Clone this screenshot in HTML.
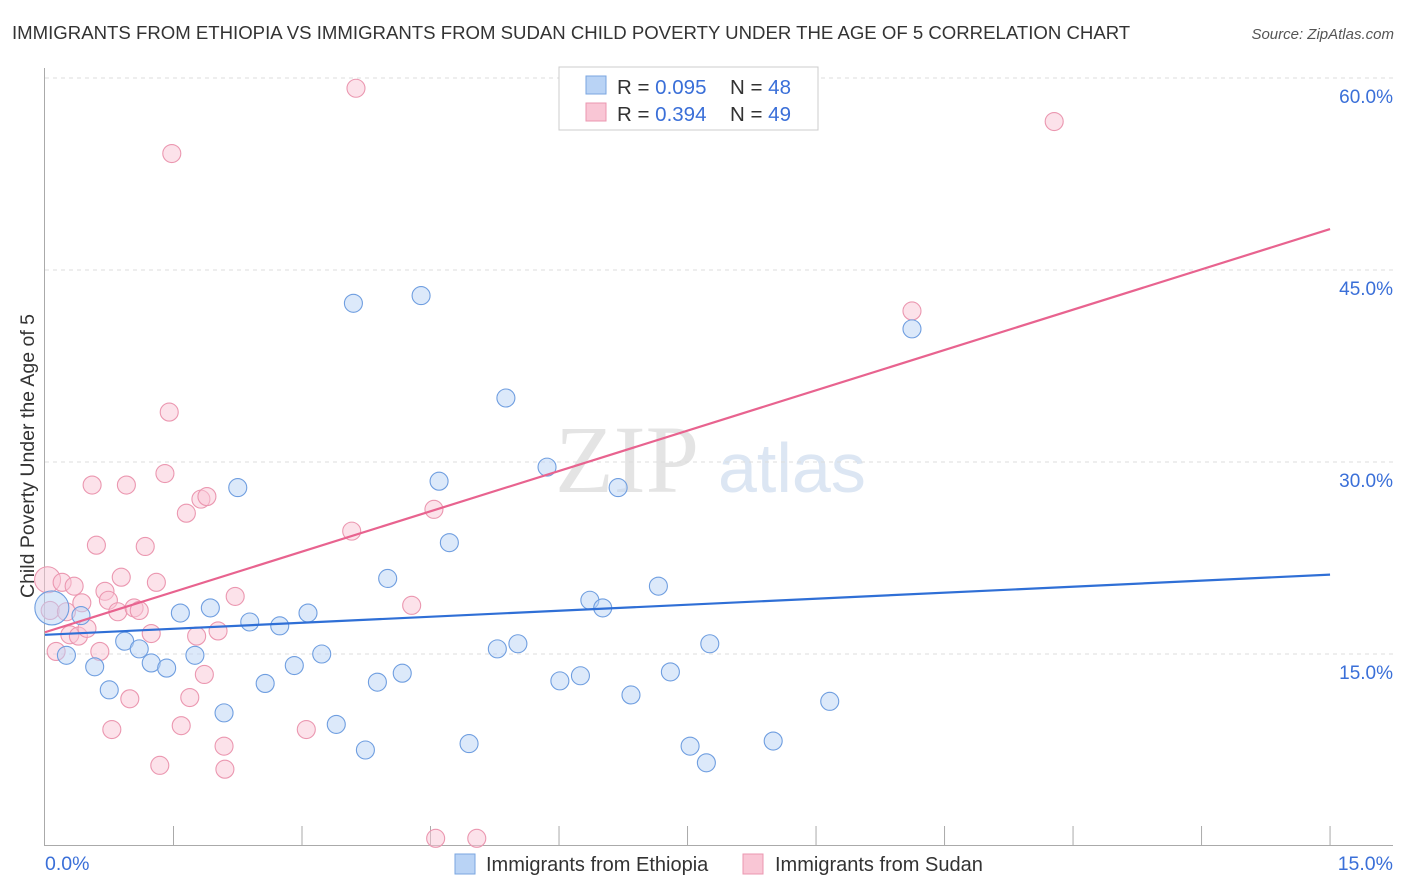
<!DOCTYPE html>
<html><head><meta charset="utf-8"><style>
body{margin:0;background:#fff;font-family:"Liberation Sans",sans-serif;}
svg{display:block}
</style></head><body>
<svg id="chart" width="1406" height="892">
<text x="12" y="39" font-size="18.6" fill="#333">IMMIGRANTS FROM ETHIOPIA VS IMMIGRANTS FROM SUDAN CHILD POVERTY UNDER THE AGE OF 5 CORRELATION CHART</text>
<text x="1394" y="39" font-size="15" fill="#555" font-style="italic" text-anchor="end">Source: ZipAtlas.com</text>
<text transform="translate(34,456) rotate(-90)" font-size="19.5" fill="#333" text-anchor="middle">Child Poverty Under the Age of 5</text>
<text x="555" y="492" font-size="96" fill="#e4e4e4" font-family="Liberation Serif,serif">ZIP</text>
<text x="718" y="492" font-size="70" fill="#dce6f3">atlas</text>
<g id="grid"></g><g id="axes"></g><g id="pts"></g><g id="lines"></g>
<g>
<rect x="559" y="67" width="259" height="63" fill="#fff" stroke="#ccc"/>
<rect x="586" y="76" width="20" height="18" fill="#b9d3f5" stroke="#7aa6e0"/>
<rect x="586" y="103" width="20" height="18" fill="#f9c6d5" stroke="#eb97b0"/>
<text x="617" y="94" font-size="20.5" fill="#333">R = <tspan fill="#3a6fd8">0.095</tspan></text>
<text x="730" y="94" font-size="20.5" fill="#333">N = <tspan fill="#3a6fd8">48</tspan></text>
<text x="617" y="121" font-size="20.5" fill="#333">R = <tspan fill="#3a6fd8">0.394</tspan></text>
<text x="730" y="121" font-size="20.5" fill="#333">N = <tspan fill="#3a6fd8">49</tspan></text>
</g>
<g>
<rect x="455" y="854" width="20" height="20" fill="#b9d3f5" stroke="#7aa6e0"/>
<text x="486" y="871" font-size="20" fill="#333">Immigrants from Ethiopia</text>
<rect x="743" y="854" width="20" height="20" fill="#f9c6d5" stroke="#eb97b0"/>
<text x="775" y="871" font-size="20" fill="#333">Immigrants from Sudan</text>
</g>
</svg>
<script>
const yTicks=[15,30,45,60];
const yTickLabels=["15.0%","30.0%","45.0%","60.0%"];
const xLabels=["0.0%","15.0%"];
const ethX=[0.08,0.25,0.42,0.58,0.75,0.93,1.10,1.24,1.42,1.58,1.75,1.93,2.09,2.25,2.39,2.57,2.74,2.91,3.07,3.23,3.40,3.60,3.74,3.88,4.00,4.17,4.39,4.60,4.72,4.95,5.28,5.38,5.52,5.86,6.01,6.25,6.36,6.51,6.69,6.84,7.16,7.30,7.53,7.72,7.76,8.50,9.16,10.12];
const ethY=[18.6,14.9,18.0,14.0,12.2,16.0,15.4,14.3,13.9,18.2,14.9,18.6,10.4,28.0,17.5,12.7,17.2,14.1,18.2,15.0,9.5,42.4,7.5,12.8,20.9,13.5,43.0,28.5,23.7,8.0,15.4,35.0,15.8,29.6,12.9,13.3,19.2,18.6,28.0,11.8,20.3,13.6,7.8,6.5,15.8,8.2,11.3,40.4];
const sudX=[0.03,0.06,0.13,0.20,0.25,0.29,0.34,0.39,0.43,0.49,0.55,0.60,0.64,0.70,0.74,0.78,0.85,0.89,0.95,0.99,1.04,1.10,1.17,1.24,1.30,1.34,1.40,1.45,1.48,1.59,1.65,1.69,1.77,1.82,1.86,1.89,2.02,2.09,2.10,2.22,3.05,3.58,3.63,4.28,4.54,4.56,5.04,10.12,11.78];
const sudY=[20.8,18.4,15.2,20.6,18.3,16.5,20.3,16.4,19.0,17.0,28.2,23.5,15.2,19.9,19.2,9.1,18.3,21.0,28.2,11.5,18.6,18.4,23.4,16.6,20.6,6.3,29.1,33.9,54.1,9.4,26.0,11.6,16.4,27.1,13.4,27.3,16.8,7.8,6.0,19.5,9.1,24.6,59.2,18.8,26.3,0.6,0.6,41.8,56.6];
const ethLine=[16.5,21.2];
const sudLine=[16.7,48.2];
const ns="http://www.w3.org/2000/svg";
const X=v=>45+v*85.67, Y=v=>846-v*12.8;
function mk(t,a,p){const e=document.createElementNS(ns,t);for(const k in a)e.setAttribute(k,a[k]);p.appendChild(e);return e;}
const grid=document.getElementById('grid'),axes=document.getElementById('axes'),pts=document.getElementById('pts'),lines=document.getElementById('lines');
yTicks.forEach((t,i)=>{
 const l=mk('line',{x1:45,x2:1393,y1:Y(t),y2:Y(t),stroke:'#ddd','stroke-dasharray':'4,4'},grid);
 
 
 const tx=mk('text',{x:1393,y:Y(t)+25,'font-size':19,fill:'#3a6fd8','text-anchor':'end'},grid);
 tx.textContent=yTickLabels[i];
 
 
});
const ya=mk('line',{x1:44.5,x2:44.5,y1:68,y2:846,stroke:'#aaa'},axes);


const xa=mk('line',{x1:44,x2:1393,y1:845.5,y2:845.5,stroke:'#aaa'},axes);


for(let i=1;i<=10;i++){
 const t=mk('line',{x1:X(i*1.5),x2:X(i*1.5),y1:826,y2:845,stroke:'#aaa'},axes);
 
 
}
[[0,45,'start'],[15,1393,'end']].forEach((d,i)=>{
 const t=mk('text',{x:d[1],y:870,'font-size':19.5,fill:'#3a6fd8','text-anchor':d[2]},axes);
 t.textContent=xLabels[i];
 
 
});
function dots(xs,ys,fill,stroke,name){
 xs.forEach((x,i)=>{
  const r=(i===0)?(name==='ethiopia-point'?17:13):9;
  const c=mk('circle',{cx:X(x),cy:Y(ys[i]),r:r,fill:fill,'fill-opacity':0.5,stroke:stroke,'stroke-width':1.1},pts);
  
  
 });
}
dots(sudX,sudY,'#f9c6d5','#eb97b0','sudan-point');
dots(ethX,ethY,'#b9d3f5','#6f9ee0','ethiopia-point');
const l1=mk('line',{x1:X(0),y1:Y(ethLine[0]),x2:X(15),y2:Y(ethLine[1]),stroke:'#2f6fd6','stroke-width':2.2},lines);


const l2=mk('line',{x1:X(0),y1:Y(sudLine[0]),x2:X(15),y2:Y(sudLine[1]),stroke:'#e8638f','stroke-width':2.2},lines);


</script>
</body></html>
